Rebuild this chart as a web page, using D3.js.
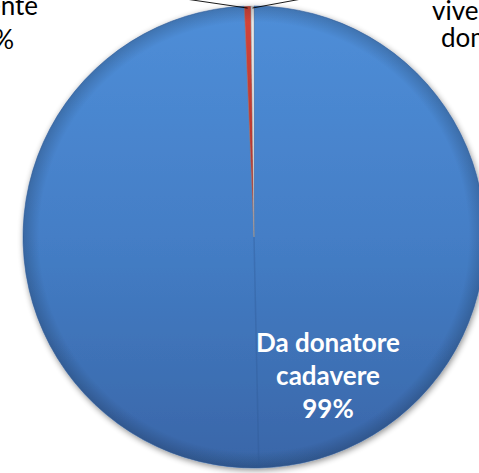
<!DOCTYPE html>
<html><head><meta charset="utf-8">
<script src="https://cdn.jsdelivr.net/npm/d3@7"></script>
<style>html,body{margin:0;padding:0;background:#fff;overflow:hidden}</style>
</head><body>
<svg id="c" width="479" height="473"></svg>
<script>
// Data
const categories = ["Da donatore cadavere", "Da donatore vivente", "Da donatore vivente (domino)"];
const values = [2360, 11, 5];
const colors = ["#4a83cc", "#c23a2e", "#dcdcdc"];
const labelLines = [["Da donatore", "cadavere"], ["Da donatore", "vivente"], ["Da donatore", "vivente", "domino"]];

const svg = d3.select("#c");
const cx = 254, cy = 237, R = 231;
const total = d3.sum(values);
const pct = d3.format(".0%");
const FONT = "Lato, 'Open Sans', sans-serif";

const defs = svg.append("defs");
const sh = defs.append("filter").attr("id", "sh").attr("x", "-10%").attr("y", "-10%").attr("width", "130%").attr("height", "130%");
sh.append("feGaussianBlur").attr("in", "SourceAlpha").attr("stdDeviation", 3);
sh.append("feOffset").attr("dx", 1).attr("dy", 2).attr("result", "b");
sh.append("feComponentTransfer").append("feFuncA").attr("type", "linear").attr("slope", 0.45);
const m = sh.append("feMerge"); m.append("feMergeNode"); m.append("feMergeNode").attr("in", "SourceGraphic");

const lg = defs.append("linearGradient").attr("id", "gblue").attr("x1", 0).attr("y1", 0).attr("x2", 0).attr("y2", 1);
lg.append("stop").attr("offset", "0%").attr("stop-color", "#4f8ed8");
lg.append("stop").attr("offset", "50%").attr("stop-color", "#447ec6");
lg.append("stop").attr("offset", "100%").attr("stop-color", "#3966a8");
const rim = defs.append("radialGradient").attr("id", "rim");
rim.append("stop").attr("offset", "93%").attr("stop-color", "#000").attr("stop-opacity", 0);
rim.append("stop").attr("offset", "100%").attr("stop-color", "#000").attr("stop-opacity", 0.18);
const lgr = defs.append("linearGradient").attr("id", "gred").attr("x1", 0).attr("y1", 0).attr("x2", 0).attr("y2", 1);
lgr.append("stop").attr("offset", "0%").attr("stop-color", "#d4453a");
lgr.append("stop").attr("offset", "100%").attr("stop-color", "#a8302a");
const fills = ["url(#gblue)", "url(#gred)", "#e6e6e6"];

const pie = d3.pie().sort(null).value(d => d)(values);
const arc = d3.arc().innerRadius(0).outerRadius(R);
const g = svg.append("g").attr("transform", `translate(${cx},${cy})`);

g.append("g").attr("filter", "url(#sh)").selectAll("path").data(pie).join("path")
  .attr("d", arc).attr("fill", (d, i) => fills[i])
  .attr("stroke", (d, i) => i === 0 ? "#3b6aab" : "#9a9a9a").attr("stroke-width", (d, i) => i === 0 ? 0.6 : 0.4);
// rim shading
g.append("circle").attr("r", R).attr("fill", "url(#rim)");
// bevel seam along blue slice mid-angle
const midA = (pie[0].startAngle + pie[0].endAngle) / 2;
g.append("line").attr("x1", 0).attr("y1", 0)
  .attr("x2", R * Math.sin(midA)).attr("y2", -R * Math.cos(midA))
  .attr("stroke", "#2f5a96").attr("stroke-opacity", 0.35).attr("stroke-width", 1.5);

// Inside label for big slice
const big = g.append("text").attr("text-anchor", "middle").attr("fill", "#fff")
  .attr("font-family", FONT).attr("font-weight", "bold").attr("font-size", 26);
const bigLines = labelLines[0].concat([pct(values[0] / total)]);
bigLines.forEach((t, j) => big.append("tspan").attr("x", 328 - cx).attr("y", 352 - cy + j * 33).text(t));

// Outside labels with leader lines
const outer = d3.arc().innerRadius(R).outerRadius(R);
const lead = [{dx: -150, dy: -20}, {dx: 120, dy: -20}];
[1, 2].forEach((k, n) => {
  const p = outer.centroid(pie[k]);
  g.append("line").attr("x1", p[0]).attr("y1", p[1] + 2)
    .attr("x2", p[0] + lead[n].dx).attr("y2", p[1] + lead[n].dy)
    .attr("stroke", "#000").attr("stroke-width", 0.9);
});
const leftT = svg.append("text").attr("font-family", FONT).attr("font-size", 26).attr("fill", "#000").attr("text-anchor", "end");
const leftLines = labelLines[1].concat([pct(values[1] / total)]);
const lb = [-22, 15, 49], lx = [38, 38, 14];
leftLines.forEach((t, j) => leftT.append("tspan").attr("x", lx[j]).attr("y", lb[j]).text(t));
const rightT = svg.append("text").attr("font-family", FONT).attr("font-size", 26).attr("fill", "#000").attr("text-anchor", "start");
const rb = [-12, 20, 47], rx = [432, 432, 441];
const rightLines = ["Da donatore", "vivente", "domino " + pct(values[2] / total)];
rightLines.forEach((t, j) => rightT.append("tspan").attr("x", rx[j]).attr("y", rb[j]).text(t));
</script>
</body></html>
